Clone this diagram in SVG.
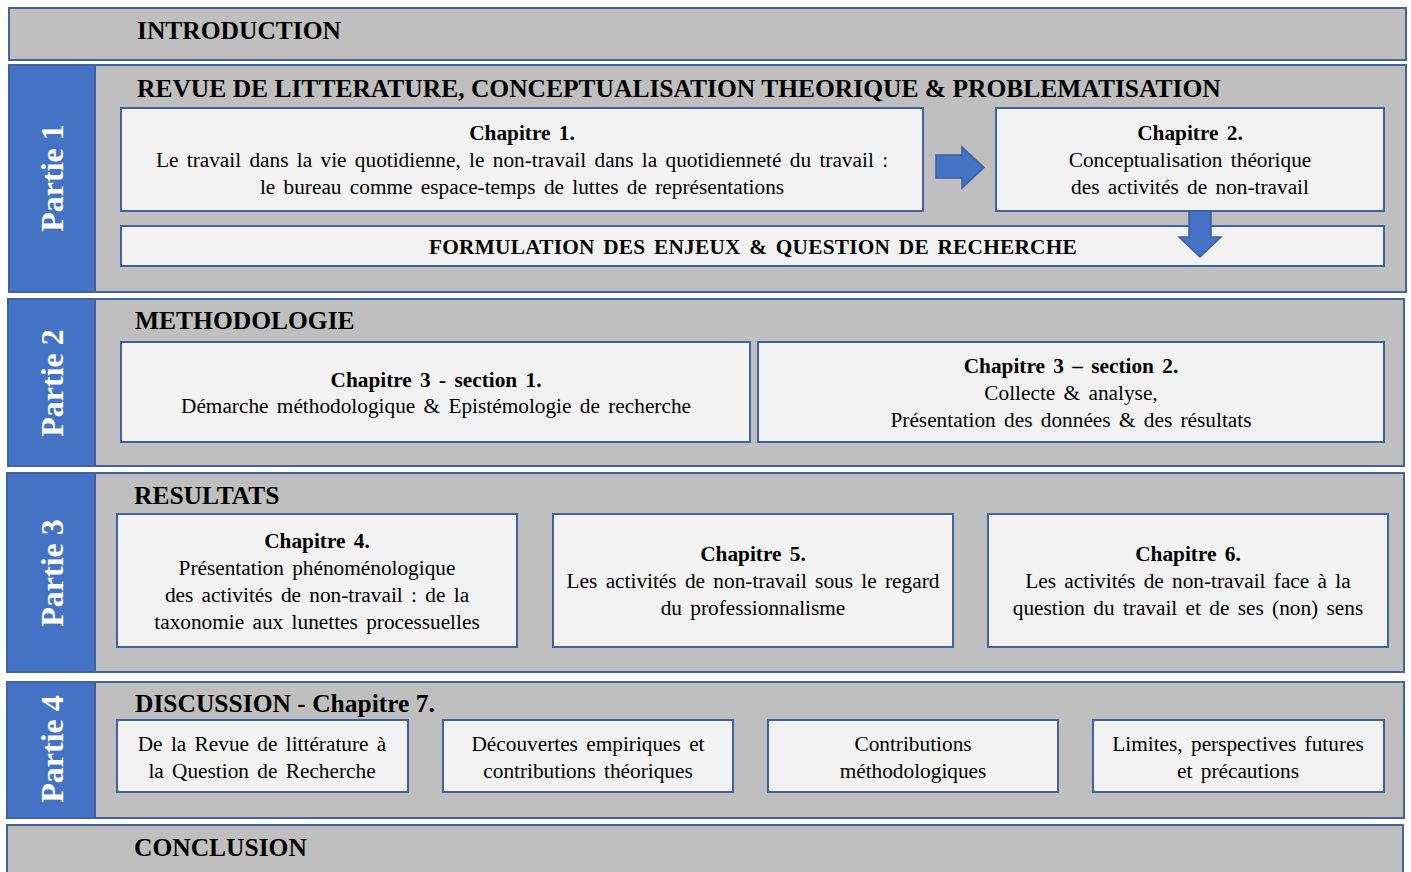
<svg xmlns="http://www.w3.org/2000/svg" width="1411" height="872" viewBox="0 0 1411 872">
<defs>
<style>
.band{fill:#BFBFBF;stroke:#41649E;stroke-width:2}
.tab{fill:#4472C4;stroke:#41649E;stroke-width:2}
.box{fill:#F2F2F2;stroke:#3F62A0;stroke-width:2}
.arrow{fill:#4472C4;stroke:#3A5FA0;stroke-width:1.5}
.hdr{font-family:"Liberation Serif","Times New Roman",serif;font-weight:bold;font-size:25.5px;fill:#000}
.part{font-family:"Liberation Serif","Times New Roman",serif;font-weight:bold;font-size:32px;fill:#fff;text-anchor:middle}
.t{font-family:"Liberation Serif","Times New Roman",serif;font-size:21.3px;fill:#000;text-anchor:middle;word-spacing:3px}
.b{font-weight:bold}
.f{letter-spacing:0.25px}
</style>
</defs>
<rect width="1411" height="872" fill="#fff"/>

<g id="introduction">
<rect class="band" x="9" y="8" width="1397" height="52"/>
<text class="hdr" x="137" y="39">INTRODUCTION</text>
</g>

<g id="partie1">
<rect class="band" x="9" y="65" width="1397" height="227"/>
<rect class="tab" x="9" y="65" width="86" height="227"/>
<text class="part" transform="translate(63,178) rotate(-90)">Partie 1</text>
<text class="hdr" x="137" y="97">REVUE DE LITTERATURE, CONCEPTUALISATION THEORIQUE &amp; PROBLEMATISATION</text>
</g>
<g id="chapitre1">
<rect class="box" x="121" y="108" width="802" height="103"/>
<text class="t b" x="522" y="140">Chapitre 1.</text>
<text class="t" x="522" y="167">Le travail dans la vie quotidienne, le non-travail dans la quotidienneté du travail :</text>
<text class="t" x="522" y="194">le bureau comme espace-temps de luttes de représentations</text>
</g>
<g id="chapitre2">
<rect class="box" x="996" y="108" width="388" height="103"/>
<text class="t b" x="1190" y="140">Chapitre 2.</text>
<text class="t" x="1190" y="167">Conceptualisation théorique</text>
<text class="t" x="1190" y="194">des activités de non-travail</text>
</g>
<g id="formulation">
<rect class="box" x="121" y="226" width="1263" height="40"/>
<text class="t b f" x="753" y="254">FORMULATION DES ENJEUX &amp; QUESTION DE RECHERCHE</text>
</g>

<g id="partie2">
<rect class="band" x="8" y="299" width="1396" height="167"/>
<rect class="tab" x="8" y="299" width="87" height="167"/>
<text class="part" transform="translate(63,383) rotate(-90)">Partie 2</text>
<text class="hdr" x="135" y="329">METHODOLOGIE</text>
</g>
<g id="chapitre3s1">
<rect class="box" x="121" y="342" width="629" height="100"/>
<text class="t b" x="436" y="387">Chapitre 3  -  section 1.</text>
<text class="t" x="436" y="413">Démarche méthodologique &amp; Epistémologie de recherche</text>
</g>
<g id="chapitre3s2">
<rect class="box" x="758" y="342" width="626" height="100"/>
<text class="t b" x="1071" y="373">Chapitre 3 – section 2.</text>
<text class="t" x="1071" y="400">Collecte &amp; analyse,</text>
<text class="t" x="1071" y="427">Présentation des données &amp; des résultats</text>
</g>

<g id="partie3">
<rect class="band" x="7" y="473" width="1397" height="199"/>
<rect class="tab" x="7" y="473" width="88" height="199"/>
<text class="part" transform="translate(63,573) rotate(-90)">Partie 3</text>
<text class="hdr" x="134" y="504">RESULTATS</text>
</g>
<g id="chapitre4">
<rect class="box" x="117" y="514" width="400" height="133"/>
<text class="t b" x="317" y="548">Chapitre 4.</text>
<text class="t" x="317" y="575">Présentation phénoménologique</text>
<text class="t" x="317" y="602">des activités de non-travail : de la</text>
<text class="t" x="317" y="629">taxonomie aux lunettes processuelles</text>
</g>
<g id="chapitre5">
<rect class="box" x="553" y="514" width="400" height="133"/>
<text class="t b" x="753" y="561">Chapitre 5.</text>
<text class="t" x="753" y="588">Les activités de non-travail sous le regard</text>
<text class="t" x="753" y="615">du professionnalisme</text>
</g>
<g id="chapitre6">
<rect class="box" x="988" y="514" width="400" height="133"/>
<text class="t b" x="1188" y="561">Chapitre 6.</text>
<text class="t" x="1188" y="588">Les activités de non-travail face à la</text>
<text class="t" x="1188" y="615">question du travail et de ses (non) sens</text>
</g>

<g id="partie4">
<rect class="band" x="7" y="682" width="1397" height="136"/>
<rect class="tab" x="7" y="682" width="88" height="136"/>
<text class="part" transform="translate(63,749) rotate(-90)">Partie 4</text>
<text class="hdr" x="135" y="712">DISCUSSION - Chapitre 7.</text>
</g>
<g id="discussion1">
<rect class="box" x="117" y="720" width="291" height="72"/>
<text class="t" x="262" y="751">De la Revue de littérature à</text>
<text class="t" x="262" y="778">la Question de Recherche</text>
</g>
<g id="discussion2">
<rect class="box" x="443" y="720" width="290" height="72"/>
<text class="t" x="588" y="751">Découvertes empiriques et</text>
<text class="t" x="588" y="778">contributions théoriques</text>
</g>
<g id="discussion3">
<rect class="box" x="768" y="720" width="290" height="72"/>
<text class="t" x="913" y="751">Contributions</text>
<text class="t" x="913" y="778">méthodologiques</text>
</g>
<g id="discussion4">
<rect class="box" x="1093" y="720" width="291" height="72"/>
<text class="t" x="1238" y="751">Limites, perspectives futures</text>
<text class="t" x="1238" y="778">et précautions</text>
</g>

<g id="conclusion">
<rect class="band" x="7" y="825" width="1396" height="60"/>
<text class="hdr" x="134" y="856">CONCLUSION</text>
</g>

<g id="connectors">
<path class="arrow" d="M936,155 L962,155 L962,147 L984,167.5 L962,188 L962,178 L936,178 Z"/>
<path class="arrow" d="M1189,211 L1211,211 L1211,237 L1221,237 L1200,257 L1179,237 L1189,237 Z"/>
</g>
</svg>
